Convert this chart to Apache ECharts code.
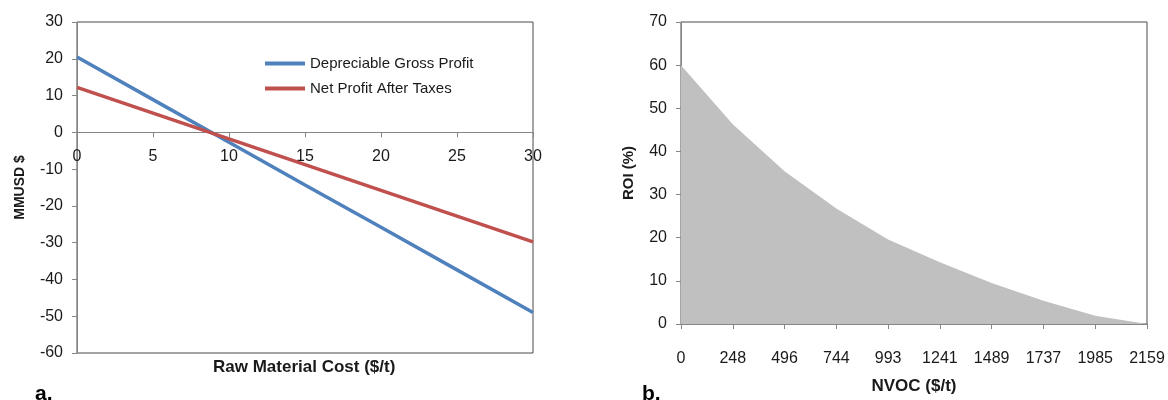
<!DOCTYPE html>
<html><head><meta charset="utf-8">
<script src="https://cdn.jsdelivr.net/npm/echarts@6/dist/echarts.min.js"></script>
<style>html,body{margin:0;padding:0;background:#fff}#c{width:1168px;height:400px}</style>
</head><body><div id="c"></div>
<script>
// ---- data ----
const costX = [0, 5, 10, 15, 20, 25, 30];
const grossProfit = [20.5, 8.9, -2.7, -14.3, -25.8, -37.4, -49.0];
const netProfit = [12.2, 5.2, -1.8, -8.8, -15.8, -22.8, -29.8];
const seriesNames = ['Depreciable Gross Profit', 'Net Profit After Taxes'];
const nvocLabels = ['0', '248', '496', '744', '993', '1241', '1489', '1737', '1985', '2159'];
const roi = [60, 46.3, 35.4, 26.8, 19.6, 14.3, 9.5, 5.4, 1.9, 0];

const FONT = '"Liberation Sans", Arial, sans-serif';
const AXIS_GREY = '#868686';
const BORDER = '#4a4a4a';
const TXT = '#1a1a1a';

const Y0MIN = -60, Y0MAX = 30;
const G0TOP = 22, G0H = 331;
// pixel offset that moves the bottom x axis up to the y = 0 line
const zeroOffset = -G0H * (0 - Y0MIN) / (Y0MAX - Y0MIN);

const chart = echarts.init(document.getElementById('c'), null, {renderer: 'canvas'});
const lbl = {color: TXT, fontSize: 16, fontFamily: FONT};
const opt = {
  animation: false,
  textStyle: {fontFamily: FONT},
  grid: [
    {left: 77, top: G0TOP, width: 456, height: G0H, show: true, borderColor: BORDER, borderWidth: 1, backgroundColor: 'transparent'},
    {left: 681, top: 22, width: 466, height: 309, show: true, borderColor: BORDER, borderWidth: 1, backgroundColor: 'transparent'}
  ],
  legend: {
    left: 265, top: 56, orient: 'vertical', padding: 0, itemGap: 10,
    itemWidth: 40, itemHeight: 4, icon: 'rect',
    textStyle: {color: TXT, fontSize: 15, fontFamily: FONT, lineHeight: 15},
    data: seriesNames
  },
  xAxis: [
    {gridIndex: 0, type: 'value', min: 0, max: 30, interval: 5, position: 'bottom', offset: zeroOffset,
     axisLine: {onZero: false, lineStyle: {color: AXIS_GREY, width: 1}},
     axisTick: {show: true, inside: false, length: 5, lineStyle: {color: AXIS_GREY}},
     axisLabel: Object.assign({margin: 16}, lbl),
     splitLine: {show: false}},
    {gridIndex: 1, type: 'category', boundaryGap: false, data: nvocLabels,
     axisLine: {lineStyle: {color: AXIS_GREY, width: 1}},
     axisTick: {show: true, inside: false, length: 5, alignWithLabel: true, lineStyle: {color: AXIS_GREY}},
     axisLabel: Object.assign({margin: 27, interval: 0}, lbl),
     name: 'NVOC ($/t)', nameLocation: 'middle', nameGap: 54,
     nameTextStyle: {color: TXT, fontSize: 17, fontWeight: 'bold', fontFamily: FONT},
     splitLine: {show: false}}
  ],
  yAxis: [
    {gridIndex: 0, type: 'value', min: Y0MIN, max: Y0MAX, interval: 10,
     axisLine: {show: true, onZero: false, lineStyle: {color: AXIS_GREY, width: 1}},
     axisTick: {show: true, inside: false, length: 5, lineStyle: {color: AXIS_GREY}},
     axisLabel: Object.assign({margin: 14}, lbl),
     name: 'MMUSD $', nameLocation: 'middle', nameGap: 50,
     nameTextStyle: {color: TXT, fontSize: 14, fontWeight: 'bold', fontFamily: FONT},
     splitLine: {show: false}},
    {gridIndex: 1, type: 'value', min: 0, max: 70, interval: 10,
     axisLine: {show: true, lineStyle: {color: AXIS_GREY, width: 1}},
     axisTick: {show: true, inside: false, length: 5, lineStyle: {color: AXIS_GREY}},
     axisLabel: Object.assign({margin: 14}, lbl),
     name: 'ROI (%)', nameLocation: 'middle', nameGap: 45,
     nameTextStyle: {color: TXT, fontSize: 15, fontWeight: 'bold', fontFamily: FONT},
     splitLine: {show: false}}
  ],
  series: [
    {name: seriesNames[0], type: 'line', xAxisIndex: 0, yAxisIndex: 0, symbol: 'none',
     color: '#4F81BD', lineStyle: {width: 3.5, color: '#4F81BD'},
     data: costX.map((x, i) => [x, grossProfit[i]])},
    {name: seriesNames[1], type: 'line', xAxisIndex: 0, yAxisIndex: 0, symbol: 'none',
     color: '#C0504D', lineStyle: {width: 3.5, color: '#C0504D'},
     data: costX.map((x, i) => [x, netProfit[i]])},
    {name: 'ROI', type: 'line', xAxisIndex: 1, yAxisIndex: 1, symbol: 'none',
     lineStyle: {width: 0}, areaStyle: {color: '#C0C0C0', opacity: 1},
     data: roi}
  ],
  graphic: [
    {type: 'text', left: 305 - 92, top: 359,
     style: {text: 'Raw Material Cost ($/t)', fill: TXT, font: 'bold 17px ' + FONT}},
    {type: 'text', left: 35, top: 384,
     style: {text: 'a.', fill: '#000', font: 'bold 21px ' + FONT}},
    {type: 'text', left: 642, top: 384,
     style: {text: 'b.', fill: '#000', font: 'bold 21px ' + FONT}}
  ]
};
chart.setOption(opt);
</script></body></html>
